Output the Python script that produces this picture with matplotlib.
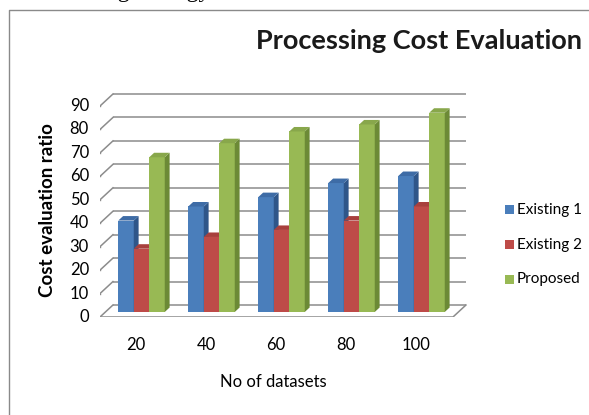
import matplotlib
matplotlib.use("Agg")
import matplotlib.pyplot as plt
from matplotlib.patches import Polygon, Rectangle
from matplotlib.lines import Line2D

# ---- data ----
categories = ["20", "40", "60", "80", "100"]
existing_1 = [39, 45, 49, 55, 58]
existing_2 = [27, 32, 35, 39, 45]
proposed = [66, 72, 77, 80, 85]
series_names = ["Existing 1", "Existing 2", "Proposed"]
y_ticks = list(range(0, 91, 10))

title = "Processing Cost Evaluation"
x_title = "No of datasets"
y_title = "Cost evaluation ratio"

# ---- styling ----
front_colors = ["#4A7EBB", "#BE4B48", "#98B954"]
side_colors = ["#2F5689", "#8A3431", "#6C8A36"]
top_colors = ["#3E6CA6", "#A8403D", "#88A74B"]
grid_color = "#8C8C8C"
FONT = "Lato"

W, H = 589, 415
fig = plt.figure(figsize=(W / 100, H / 100), dpi=100)
fig.patch.set_facecolor("white")

# pixel-based layout of the plotting area
PX_PER_UNIT = 211 / 90.0     # vertical pixels per value unit
GROUP_PX = 70.0              # horizontal pixels between category groups
X0_PX = 141.5                # pixel x of first group centre
BASE_PX = 312                # pixel y of value 0 on the bar plane
ax_l, ax_r, ax_t, ax_b = 100, 470, 90, 317
ax = fig.add_axes([ax_l / W, 1 - ax_b / H, (ax_r - ax_l) / W, (ax_b - ax_t) / H])
ax.set_xlim((ax_l - X0_PX) / GROUP_PX, (ax_r - X0_PX) / GROUP_PX)
ax.set_ylim((BASE_PX - ax_b) / PX_PER_UNIT, (BASE_PX - ax_t) / PX_PER_UNIT)
ax.axis("off")


def depth(d):
    """Oblique offset (data units) for a depth of d pixels."""
    return 1.08 * d / GROUP_PX, d / PX_PER_UNIT


# floor / walls
fdx, fdy = depth(-5)   # front edge of the floor
bdx, bdy = depth(7)    # back wall
x_front_l = (100 - X0_PX) / GROUP_PX
x_front_r = (453 - X0_PX) / GROUP_PX
x_back_l = x_front_l + (bdx - fdx)
x_back_r = x_front_r + (bdx - fdx)

for v in y_ticks:
    # back wall gridline
    ax.plot([x_back_l, x_back_r], [v + bdy, v + bdy], color=grid_color, lw=1.1, zorder=1,
            solid_capstyle="butt")
    # left wall diagonal
    ax.plot([x_front_l, x_back_l], [v + fdy, v + bdy], color=grid_color, lw=1.1, zorder=1)
    # small tick mark
    ax.plot([x_front_l - 3 / GROUP_PX, x_front_l], [v + fdy, v + fdy], color=grid_color,
            lw=1.0, zorder=1)
    ax.text(x_front_l - 11 / GROUP_PX, v + fdy, str(v), ha="right", va="center",
            fontsize=12, family=FONT, color="black", clip_on=False)

# floor outline
ax.plot([x_front_l, x_front_r, x_back_r], [fdy, fdy, bdy], color=grid_color, lw=1.1, zorder=1)

# bars with oblique side and top faces
series = [existing_1, existing_2, proposed]
bar_w = 15.5 / GROUP_PX
ddx, ddy = depth(4.5)
n_series = len(series)
for k, vals in enumerate(series):
    offs = (k - (n_series - 1) / 2) * bar_w
    xs = [i + offs for i in range(len(categories))]
    z = 3 + k
    ax.bar(xs, vals, width=bar_w, color=front_colors[k], zorder=z, linewidth=0,
           label=series_names[k])
    for x, v in zip(xs, vals):
        xl, xr = x - bar_w / 2, x + bar_w / 2
        side = Polygon([(xr, 0), (xr + ddx, ddy), (xr + ddx, v + ddy), (xr, v)],
                       closed=True, facecolor=side_colors[k], edgecolor="none", zorder=z + 0.1)
        top = Polygon([(xl, v), (xr, v), (xr + ddx, v + ddy), (xl + ddx, v + ddy)],
                      closed=True, facecolor=top_colors[k], edgecolor="none", zorder=z + 0.1)
        ax.add_patch(side)
        ax.add_patch(top)

# category labels
lab_y = (BASE_PX - 345) / PX_PER_UNIT
for i, c in enumerate(categories):
    ax.text(i + fdx, lab_y, c, ha="center", va="center", fontsize=12, family=FONT,
            color="black", clip_on=False)

# titles
fig.text(582 / W, 1 - 41 / H, title, ha="right", va="center", fontsize=19.5,
         fontweight="bold", family=FONT, color="#1a1a1a")
fig.text(273 / W, 1 - 382 / H, x_title, ha="center", va="center", fontsize=12,
         family=FONT, color="black")
fig.text(48 / W, 1 - 210 / H, y_title, ha="center", va="center", rotation=90,
         fontsize=13.5, fontweight="bold", family=FONT, color="black")

# legend
leg_y = [210, 245, 279]
for k, name in enumerate(series_names):
    y = leg_y[k]
    fig.add_artist(Rectangle((505 / W, 1 - (y + 4.5) / H), 9 / W, 9 / H,
                             transform=fig.transFigure, facecolor=front_colors[k],
                             edgecolor="none"))
    fig.text(517 / W, 1 - y / H, name, ha="left", va="center", fontsize=11,
             family=FONT, color="black")

# chart frame
fig.add_artist(Line2D([8.5 / W, 8.5 / W, 1.0], [0.0, 1 - 10.5 / H, 1 - 10.5 / H],
                      transform=fig.transFigure, color="#8a8a8a", lw=1.0))

# running text of the page above the chart
fig.text(215 / W, 1 + 3 / H, "ching strategy.", ha="right", va="baseline",
         fontsize=17, family="Liberation Serif", color="black")

fig.savefig("out.png", dpi=100)
